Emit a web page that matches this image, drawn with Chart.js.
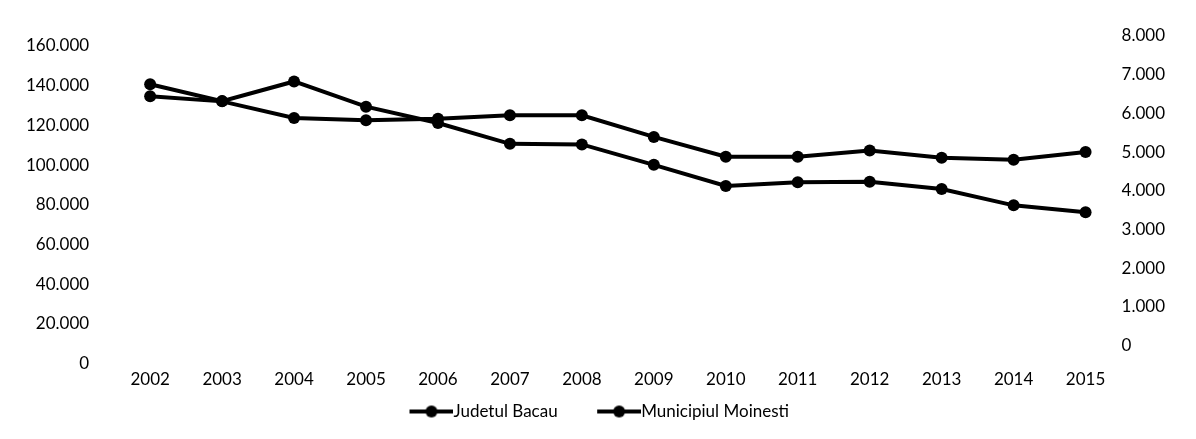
<!DOCTYPE html>
<html>
<head>
<meta charset="utf-8">
<script src="https://cdn.jsdelivr.net/npm/chart.js@4/dist/chart.umd.min.js"></script>
<style>
  html, body { margin: 0; padding: 0; background: #fff; }
  #wrap { width: 1196px; height: 439px; }
</style>
</head>
<body>
<div id="wrap"><canvas id="chart"></canvas></div>
<script>
  const years = ['2002', '2003', '2004', '2005', '2006', '2007', '2008',
                 '2009', '2010', '2011', '2012', '2013', '2014', '2015'];
  // left axis
  const judetulBacau = [140700, 132200, 142100, 129400, 121200, 110700, 110400,
                        100100, 89500, 91300, 91600, 87900, 79700, 76200];
  // right axis
  const municipiulMoinesti = [6440, 6310, 5880, 5820, 5860, 5950, 5950,
                              5390, 4880, 4880, 5040, 4850, 4800, 5000];
  const leftTicks = [0, 20000, 40000, 60000, 80000, 100000, 120000, 140000, 160000];
  const rightTicks = [0, 1000, 2000, 3000, 4000, 5000, 6000, 7000, 8000];

  const FONT = { family: 'Lato', size: 17 };

  function fmt(v) {
    return String(v).replace(/\B(?=(\d{3})+(?!\d))/g, '.');
  }

  // legend marker: line with a dot, pushed to the right so it touches the text
  function legendIcon() {
    const c = document.createElement('canvas');
    c.width = 85;
    c.height = 16;
    const ctx = c.getContext('2d');
    ctx.strokeStyle = '#000';
    ctx.lineWidth = 4;
    ctx.beginPath();
    ctx.moveTo(c.width - 44, 8);
    ctx.lineTo(c.width, 8);
    ctx.stroke();
    ctx.fillStyle = '#000';
    ctx.beginPath();
    ctx.arc(c.width - 22, 8, 6, 0, Math.PI * 2);
    ctx.fill();
    return c;
  }
  const icon = legendIcon();

  function series(label, data, axis) {
    return {
      label: label,
      data: data,
      yAxisID: axis,
      borderColor: '#000',
      backgroundColor: '#000',
      borderWidth: 4,
      pointRadius: 6,
      pointBorderWidth: 0,
      pointBackgroundColor: '#000',
      tension: 0
    };
  }

  const noGrid = { display: false, drawTicks: false };

  new Chart(document.getElementById('chart').getContext('2d'), {
    type: 'line',
    data: {
      labels: years,
      datasets: [
        series('Judetul Bacau', judetulBacau, 'y'),
        series('Municipiul Moinesti', municipiulMoinesti, 'y1')
      ]
    },
    options: {
      responsive: true,
      maintainAspectRatio: false,
      animation: false,
      layout: { padding: { top: 36, left: 1, right: 31, bottom: 9 } },
      plugins: {
        tooltip: { enabled: false },
        legend: {
          position: 'bottom',
          labels: {
            color: '#000',
            font: FONT,
            usePointStyle: true,
            pointStyleWidth: 68,
            padding: 7,
            generateLabels(chart) {
              return Chart.defaults.plugins.legend.labels.generateLabels(chart)
                .map(item => Object.assign(item, { pointStyle: icon }));
            }
          }
        }
      },
      scales: {
        x: {
          offset: true,
          grid: noGrid,
          border: { display: false },
          ticks: { color: '#000', font: FONT, padding: 6, maxRotation: 0, autoSkip: false }
        },
        y: {
          position: 'left',
          min: 0,
          max: 165000,
          afterBuildTicks: s => { s.ticks = leftTicks.map(v => ({ value: v })); },
          grid: noGrid,
          border: { display: false },
          ticks: { color: '#000', font: FONT, padding: 25, callback: v => fmt(v) }
        },
        y1: {
          position: 'right',
          min: -470,
          max: 8000,
          afterBuildTicks: s => { s.ticks = rightTicks.map(v => ({ value: v })); },
          grid: noGrid,
          border: { display: false },
          ticks: { color: '#000', font: FONT, padding: 0, callback: v => fmt(v) }
        }
      }
    }
  });
</script>
</body>
</html>
